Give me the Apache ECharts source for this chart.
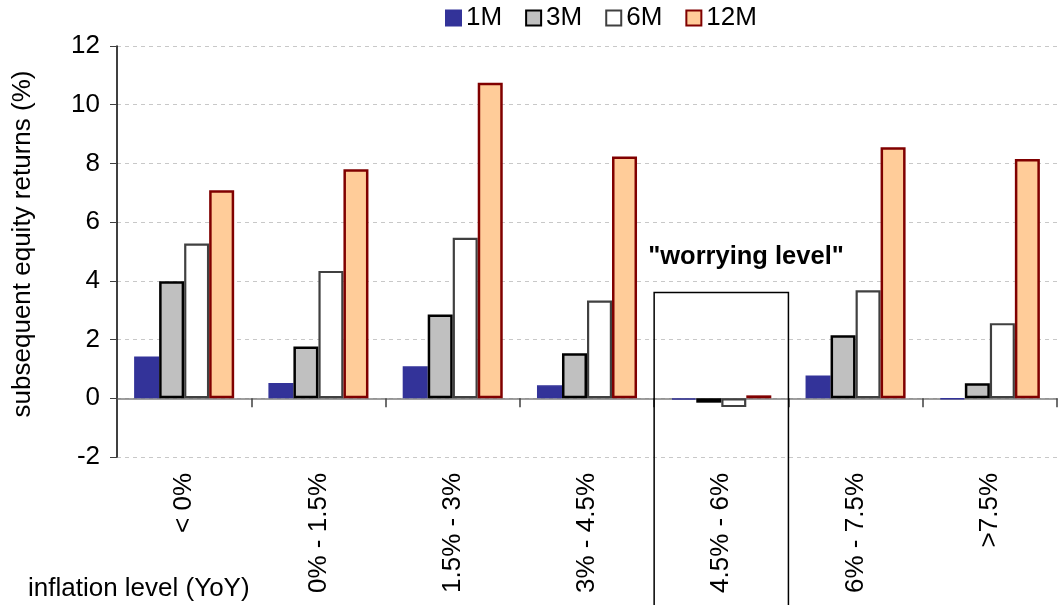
<!DOCTYPE html>
<html><head><meta charset="utf-8">
<script src="https://cdn.jsdelivr.net/npm/echarts@6/dist/echarts.min.js"></script>
<style>html,body{margin:0;padding:0;background:#fff}#c{width:1064px;height:605px}</style>
</head><body><div id="c"></div>
<script>
var categories = ['< 0%', '0% - 1.5%', '1.5% - 3%', '3% - 4.5%', '4.5% - 6%', '6% - 7.5%', '>7.5%'];
var m1 = [1.42, 0.52, 1.09, 0.44, -0.05, 0.78, -0.03];
var m3 = [3.99, 1.76, 2.85, 1.53, -0.15, 2.15, 0.51];
var m6 = [5.27, 4.34, 5.47, 3.33, -0.30, 3.68, 2.56];
var m12 = [7.09, 7.80, 10.75, 8.24, 0.10, 8.55, 8.15];
var yTicks = { min: -2, max: 12, interval: 2 };
var annotation = { category: 4, top: 3.6, text: '"worrying level"' };

var FONT = 'Liberation Sans, Arial, sans-serif';
var FS = 26;
var chart = echarts.init(document.getElementById('c'));
function bar(name, data, fill, border, bw) {
  return { name: name, type: 'bar', data: data, barGap: '0%', barCategoryGap: '25.5%',
    itemStyle: { color: fill, borderColor: border, borderWidth: bw } };
}
chart.setOption({
  animation: false,
  textStyle: { fontFamily: FONT },
  legend: {
    top: 5, left: 445, padding: 0, itemWidth: 15, itemHeight: 15, itemGap: 23, icon: 'rect',
    textStyle: { fontSize: FS, color: '#000', fontFamily: FONT },
    data: ['1M', '3M', '6M', '12M']
  },
  grid: { left: 117, right: 7, top: 46, bottom: 148 },
  xAxis: [{
    type: 'category', data: categories, position: 'bottom',
    axisLine: { show: false, onZero: false }, axisTick: { show: false },
    axisLabel: { rotate: 90, margin: 16, fontSize: FS, color: '#000', fontFamily: FONT, interval: 0 }
  }, {
    type: 'category', data: categories, position: 'top',
    axisLine: { show: true, onZero: true, lineStyle: { color: '#808080', width: 1.5 } },
    axisTick: { show: true, inside: true, length: 9, interval: 0, lineStyle: { color: '#404040', width: 1.5 } },
    axisLabel: { show: false }
  }],
  yAxis: {
    type: 'value', min: yTicks.min, max: yTicks.max, interval: yTicks.interval,
    axisLine: { show: true, lineStyle: { color: '#000', width: 1.5 } },
    axisTick: { show: true, length: 7, lineStyle: { color: '#404040' } },
    axisLabel: { fontSize: FS, color: '#000', margin: 17, fontFamily: FONT },
    splitLine: { show: true, lineStyle: { color: '#c8c8c8', type: [4, 4], width: 1 } }
  },
  series: [
    bar('1M', m1, '#333399', '#333399', 1.5),
    bar('3M', m3, '#c0c0c0', '#000000', 2.5),
    bar('6M', m6, '#ffffff', '#404040', 2.2),
    bar('12M', m12, '#ffcc99', '#800000', 2.5)
  ]
});
var tl = chart.convertToPixel({ gridIndex: 0 }, [annotation.category, annotation.top]);
var half = chart.convertToPixel({ xAxisIndex: 0 }, categories[1]) - chart.convertToPixel({ xAxisIndex: 0 }, categories[0]);
half = half / 2;
chart.setOption({
  graphic: [
    { type: 'rect', z: 10, shape: { x: tl[0] - half, y: tl[1], width: half * 2, height: 605 - tl[1] + 5 },
      style: { fill: 'none', stroke: '#000', lineWidth: 1.5 } },
    { type: 'text', z: 10, left: tl[0] - half - 6, top: tl[1] - 49,
      style: { text: annotation.text, font: 'bold 25.5px ' + FONT, fill: '#000' } },
    { type: 'text', left: 28, top: 576,
      style: { text: 'inflation level (YoY)', font: FS + 'px ' + FONT, fill: '#000' } },
    { type: 'text', x: 23, y: 244, rotation: Math.PI / 2,
      style: { text: 'subsequent equity returns (%)', font: FS + 'px ' + FONT, fill: '#000',
        textAlign: 'center', textVerticalAlign: 'middle' } }
  ]
});
</script></body></html>
